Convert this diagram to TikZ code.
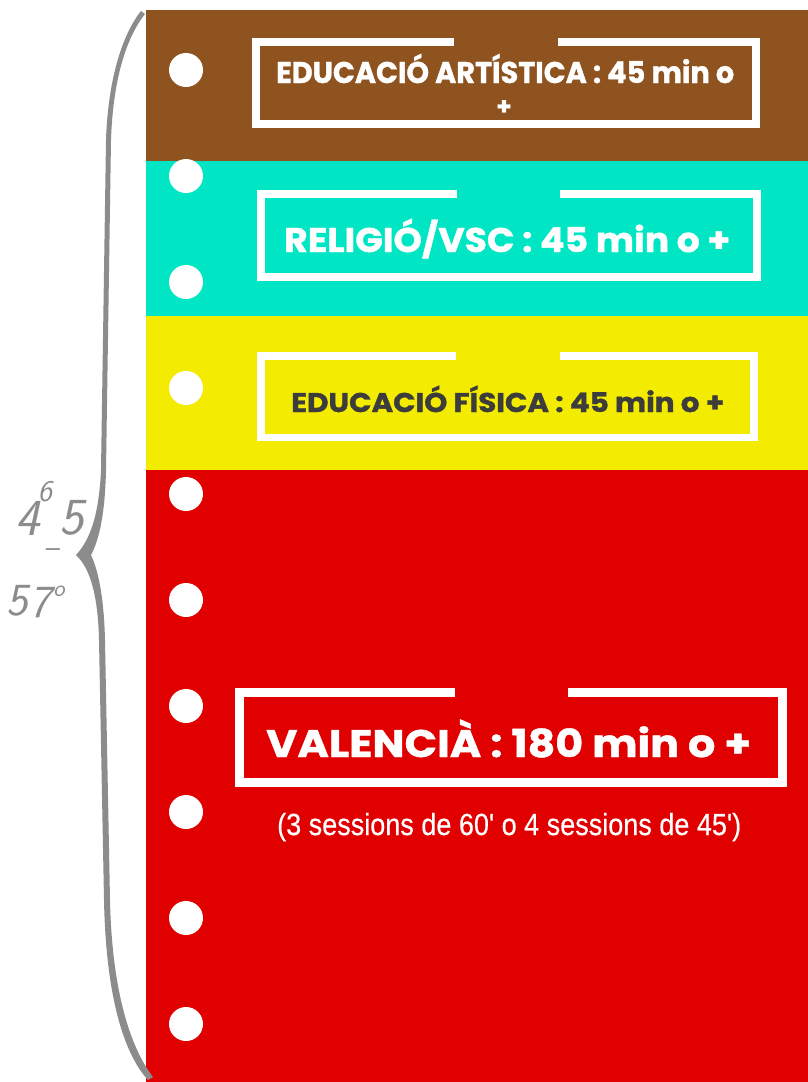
\documentclass[tikz,border=0pt]{standalone}
\usepackage{fontspec}
\usepackage{graphicx}
\newfontfamily\pop{Poppins}[BoldFeatures={FakeBold=1.2}]
\newfontfamily\lib{Liberation Sans}[FakeBold=0.5]
\newcommand{\fitx}[3]{\resizebox{#1}{#2}{\smash{#3}\vphantom{E}}}
\definecolor{cbrown}{RGB}{142,83,31}
\definecolor{cteal}{RGB}{0,230,196}
\definecolor{cyellow}{RGB}{243,236,0}
\definecolor{cred}{RGB}{224,0,0}
\definecolor{cdark}{RGB}{60,60,60}
\definecolor{bracegray}{RGB}{140,140,140}
\begin{document}
\begin{tikzpicture}[x=1pt,y=-1pt,
  frame/.style={draw=white,line width=7.5pt},
  dot/.style={fill=white,draw=none,circle,minimum size=34pt,inner sep=0pt},
  lab/.style={inner sep=0pt,anchor=base west,text=white,font=\pop\bfseries},
  sub/.style={inner sep=0pt,anchor=base west,text=white,font=\lib},
  hand/.style={text=bracegray,inner sep=0pt}]
\useasboundingbox (0,0) rectangle (808,1082);
\fill[white] (0,0) rectangle (808,1082);
% bands
\fill[cbrown] (146,10) rectangle (808,160.5);
\fill[cteal] (146,160.5) rectangle (808,316);
\fill[cyellow] (146,316) rectangle (808,469.5);
\fill[cred] (146,469.5) rectangle (808,1082);
% holes
\foreach \yy [count=\k] in {70,176,282,388,494,600,706,812,918,1024}
  \node[dot] (d\k) at (186,\yy) {};
% frames
\draw[frame] (454,42) -- (256,42) -- (256,124) -- (756,124) -- (756,42) -- (557.5,42);
\draw[frame] (457,194) -- (261,194) -- (261,277) -- (757,277) -- (757,194) -- (560,194);
\draw[frame] (456,356) -- (261,356) -- (261,437.5) -- (754,437.5) -- (754,356) -- (560,356);
\draw[frame,line width=9pt] (455,692.5) -- (239.5,692.5) -- (239.5,782.5) -- (782.5,782.5) -- (782.5,692.5) -- (567.5,692.5);
% texts
\node[lab] (t1) at (276,83) {\fitx{458pt}{21pt}{EDUCACIÓ ARTÍSTICA : 45 min o}};
\node[inner sep=0pt,text=white,font=\pop\bfseries\fontsize{24}{24}\selectfont] (t1b) at (504,107.5) {+};
\node[lab] (t2) at (284,252) {\fitx{446pt}{24pt}{RELIGIÓ/VSC : 45 min o +}};
\node[lab,text=cdark] (t3) at (291,412) {\fitx{433pt}{19pt}{EDUCACIÓ FÍSICA : 45 min o +}};
\node[lab] (t4) at (266,757) {\fitx{485pt}{27pt}{VALENCIÀ : 180 min o +}};
\node[sub] (t5) at (277,835) {\fitx{464pt}{21pt}{(3 sessions de 60' o 4 sessions de 45')}};
% brace
\fill[bracegray]
  (141,11) .. controls (122,35) and (108,80) .. (106,140) -- (101,470)
  .. controls (99,515) and (90,540) .. (76,555)
  .. controls (90,568) and (98,595) .. (99,640) -- (104,900)
  .. controls (106,1000) and (125,1055) .. (148,1080)
  -- (153,1077)
  .. controls (132,1050) and (112,995) .. (110,900) -- (105,640)
  .. controls (104,600) and (99,572) .. (91,555)
  .. controls (99,540) and (105,515) .. (106,470) -- (111,140)
  .. controls (113,80) and (126,38) .. (145,14) -- cycle;
% brace label
\node[hand,font=\sffamily\itshape\fontsize{52}{52}\selectfont] (h1) at (28,518) {4};
\node[hand,font=\sffamily\itshape\fontsize{30}{30}\selectfont] (h2) at (45,492) {6};
\node[hand,font=\sffamily\itshape\fontsize{52}{52}\selectfont] (h3) at (72,518) {5};
\node[hand,anchor=base,font=\sffamily\fontsize{30}{30}\selectfont] (h4) at (53,557) {\textendash};
\node[hand,font=\sffamily\itshape\fontsize{46}{46}\selectfont] (h5) at (17,601) {5};
\node[hand,font=\sffamily\itshape\fontsize{46}{46}\selectfont] (h6) at (40,603) {7};
\node[hand,font=\sffamily\itshape\fontsize{24}{24}\selectfont] (h7) at (59,591) {o};
\end{tikzpicture}
\end{document}
